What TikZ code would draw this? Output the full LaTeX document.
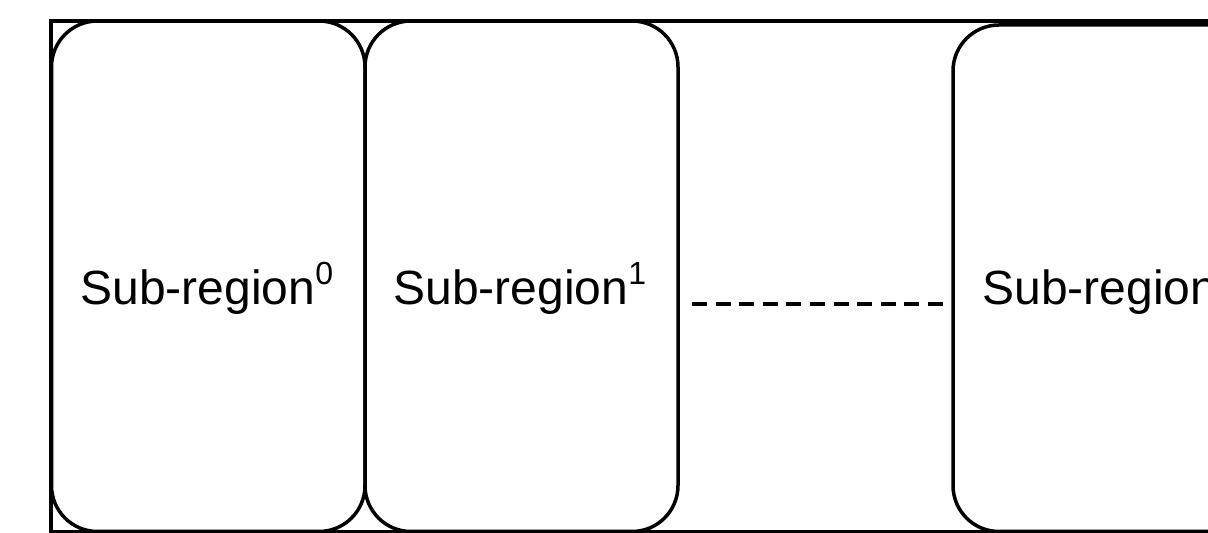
\documentclass[tikz,border=0pt]{standalone}
\usepackage{fontspec}
\setmainfont{Liberation Sans}
\newcommand\supx[1]{\raisebox{20pt}{\fontsize{32}{32}\selectfont #1}}
\tikzset{
  frame/.style={draw=black, line width=3.5pt},
  region/.style={draw=black, line width=3.5pt, rectangle, rounded corners=46pt,
    inner sep=0pt, outer sep=0pt, anchor=south west},
  lbl/.style={inner sep=0pt, outer sep=0pt, anchor=base west,
    font=\fontsize{48}{48}\selectfont},
  dots/.style={draw=black, line width=3.5pt, dash pattern=on 15pt off 8.6pt}
}
\begin{document}
\begin{tikzpicture}[x=1pt,y=1pt]
\useasboundingbox (0,0) rectangle (1208,533);
\clip (0,0) rectangle (1208,533);
\draw[frame] (51,1.5) rectangle (1260,512);
\node[region, minimum width=313.5pt, minimum height=510.5pt] (b0) at (51.5,1.5) {};
\node[region, minimum width=313pt, minimum height=510.5pt] (b1) at (365,1.5) {};
\node[region, minimum width=313pt, minimum height=506.5pt] (bn) at (953,1.5) {};
\node[lbl] (t0) at (80.5,228) {Sub-region\supx{0}};
\node[lbl] (t1) at (393.5,228) {Sub-region\supx{1}};
\node[lbl] (tn) at (982.5,228) {Sub-region\supx{n}};
\coordinate (d0) at (692,229);
\coordinate (d1) at (943,229);
\draw[dots] (d0) -- (d1);
\end{tikzpicture}
\end{document}
